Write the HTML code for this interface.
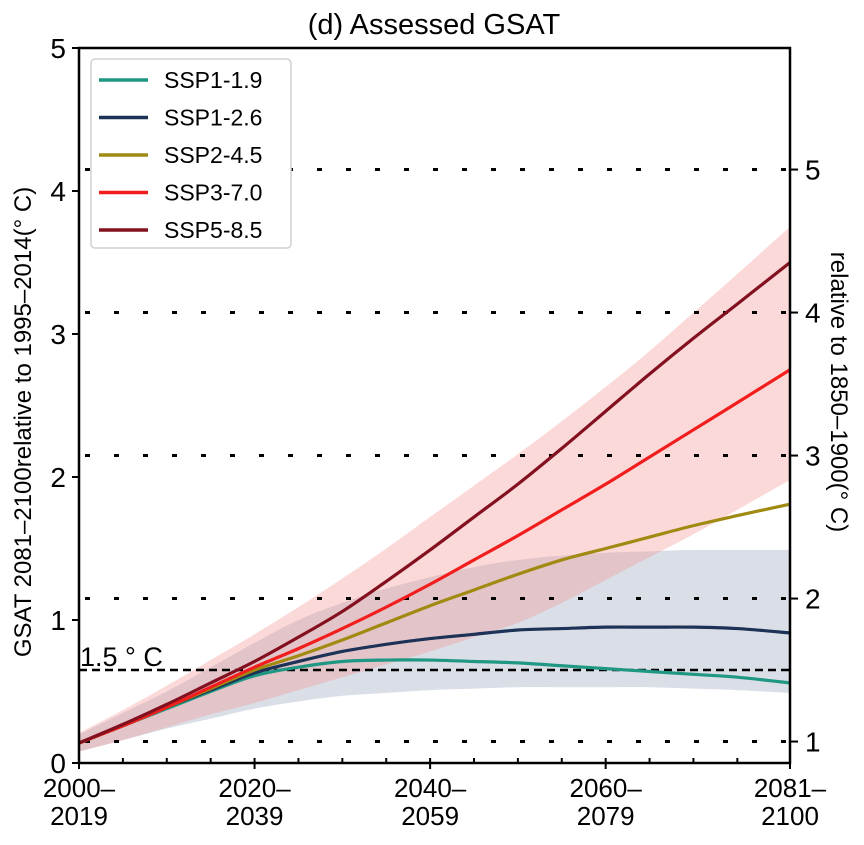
<!DOCTYPE html>
<html><head><meta charset="utf-8"><style>
body{margin:0;background:#fff}
svg text{font-family:"Liberation Sans","DejaVu Sans",sans-serif;fill:#000}
</style></head><body>
<svg width="864" height="840" viewBox="0 0 864 840" xmlns="http://www.w3.org/2000/svg">
<text x="434" y="34" font-size="29" text-anchor="middle">(d)  Assessed GSAT</text>
<g id="bands"></g>
<g id="grid"></g>
<g id="lines"></g>
<g id="axes"></g>
<text x="80" y="666" font-size="27">1.5 ° C</text>
<text transform="translate(31,422) rotate(-90)" font-size="24" text-anchor="middle">GSAT 2081–2100relative to 1995–2014(° C)</text>
<text transform="translate(831,392) rotate(90)" font-size="24" text-anchor="middle">relative to 1850–1900(° C)</text>
<g>
<rect x="91" y="59" width="200" height="189" rx="4" fill="#fff" stroke="#d0d0d0" stroke-width="1.5"/>
<g id="legend-items"></g>
</g>
</svg>
<script>
const years=[2000,2005,2010,2015,2020,2025,2030,2035,2040,2045,2050,2055,2060,2065,2070,2075,2081];
const ssp119=[0.14,0.26,0.38,0.50,0.61,0.67,0.71,0.72,0.72,0.71,0.70,0.68,0.66,0.64,0.62,0.60,0.56];
const ssp126=[0.14,0.26,0.39,0.51,0.63,0.71,0.78,0.83,0.87,0.90,0.93,0.94,0.95,0.95,0.95,0.94,0.91];
const ssp245=[0.14,0.26,0.39,0.52,0.65,0.75,0.86,0.98,1.10,1.21,1.32,1.42,1.50,1.58,1.66,1.73,1.81];
const ssp370=[0.14,0.26,0.39,0.53,0.67,0.80,0.94,1.09,1.25,1.42,1.59,1.77,1.95,2.14,2.33,2.52,2.75];
const ssp585=[0.14,0.27,0.41,0.56,0.71,0.88,1.06,1.27,1.49,1.72,1.95,2.20,2.46,2.72,2.97,3.21,3.50];
const pinkUpper=[0.21,0.37,0.54,0.72,0.90,1.09,1.29,1.50,1.72,1.94,2.16,2.39,2.63,2.88,3.15,3.42,3.75];
const pinkLower=[0.08,0.16,0.25,0.34,0.42,0.51,0.60,0.69,0.78,0.88,0.98,1.12,1.28,1.44,1.60,1.77,1.98];
const greyUpper=[0.20,0.35,0.50,0.67,0.84,1.00,1.12,1.22,1.30,1.37,1.42,1.45,1.47,1.48,1.49,1.49,1.49];
const greyLower=[0.08,0.16,0.24,0.31,0.38,0.43,0.47,0.49,0.51,0.52,0.53,0.53,0.53,0.53,0.52,0.51,0.49];
const leftTicks=[0,1,2,3,4,5];
const rightTicks=[1,2,3,4,5];
const rightOffset=0.85;
const xTickLabels=[["2000–","2019"],["2020–","2039"],["2040–","2059"],["2060–","2079"],["2081–","2100"]];
const xTickYears=[2000,2020,2040,2060,2081];
const threshold=1.5;

const X0=79,X1=790,Y0=763,PPU=143;
const sx=y=>X0+(y-2000)*(X1-X0)/81;
const sy=v=>Y0-v*PPU;
const NS="http://www.w3.org/2000/svg";
function mk(t,a,p){const e=document.createElementNS(NS,t);for(const k in a)e.setAttribute(k,a[k]);p.appendChild(e);return e;}
function pts(vals){return years.map((y,i)=>[sx(y),sy(vals[i])]);}
function curve(p,start){let d=start?`M${p[0][0]},${p[0][1]}`:`L${p[0][0]},${p[0][1]}`;
 for(let i=0;i<p.length-1;i++){const a=p[Math.max(i-1,0)],b=p[i],c=p[i+1],e=p[Math.min(i+2,p.length-1)];
 d+=` C${b[0]+(c[0]-a[0])/6},${b[1]+(c[1]-a[1])/6} ${c[0]-(e[0]-b[0])/6},${c[1]-(e[1]-b[1])/6} ${c[0]},${c[1]}`;}return d;}
const bands=document.getElementById('bands');
function band(u,l,fill,name){const d=curve(pts(u),true)+curve(pts(l).reverse(),false)+'Z';
 const e=mk('path',{d:d,fill:fill},bands);
 
 }
band(greyUpper,greyLower,'rgba(175,183,203,0.46)','ssp126-range-band');
band(pinkUpper,pinkLower,'rgba(245,150,150,0.36)','ssp370-range-band');
const grid=document.getElementById('grid');
rightTicks.forEach(t=>{const y=sy(t-rightOffset);const e=mk('line',{x1:X0+6,x2:X1,y1:y,y2:y,stroke:'#000','stroke-width':3,'stroke-dasharray':'5 24'},grid);
 
 });
const th=mk('line',{x1:X0,x2:X1,y1:sy(threshold-rightOffset),y2:sy(threshold-rightOffset),stroke:'#000','stroke-width':2.5,'stroke-dasharray':'8 5'},grid);


const series=[["SSP1-1.9",ssp119,"#1f9782"],["SSP1-2.6",ssp126,"#1c3256"],["SSP2-4.5",ssp245,"#a08a12"],["SSP3-7.0",ssp370,"#f21d1d"],["SSP5-8.5",ssp585,"#83101f"]];
const lines=document.getElementById('lines'),leg=document.getElementById('legend-items');
series.forEach((s,i)=>{const e=mk('path',{d:curve(pts(s[1]),true),fill:'none',stroke:s[2],'stroke-width':3.2},lines);
 
 
 const y=80+i*37.5;
 const g=mk('g',{},leg);
 
 
 mk('line',{x1:99,x2:148,y1:y,y2:y,stroke:s[2],'stroke-width':3.5},g);
 const t=mk('text',{x:164,y:y+8,'font-size':23},g);t.textContent=s[0];});
const ax=document.getElementById('axes');
mk('rect',{x:X0,y:sy(5),width:X1-X0,height:Y0-sy(5),fill:'none',stroke:'#000','stroke-width':2.5},ax);
leftTicks.forEach(t=>{const y=sy(t);mk('line',{x1:X0-7,x2:X0,y1:y,y2:y,stroke:'#000','stroke-width':2},ax);
 const e=mk('text',{x:X0-13,y:y+10,'font-size':28,'text-anchor':'end'},ax);e.textContent=t;
 
 });
rightTicks.forEach(t=>{const y=sy(t-rightOffset);mk('line',{x1:X1,x2:X1+8,y1:y,y2:y,stroke:'#000','stroke-width':2},ax);
 const e=mk('text',{x:X1+15,y:y+10,'font-size':28},ax);e.textContent=t;
 
 });
for(let y=2005;y<2081;y+=5){if(y%20)mk('line',{x1:sx(y),x2:sx(y),y1:Y0,y2:Y0-5,stroke:'#000','stroke-width':2},ax);}
xTickYears.forEach((yr,i)=>{const x=sx(yr);mk('line',{x1:x,x2:x,y1:Y0-5,y2:Y0+6,stroke:'#000','stroke-width':2},ax);
 const e=mk('text',{x:x,y:797,'font-size':26,'text-anchor':'middle'},ax);
 
 
 const a=mk('tspan',{x:x,dy:0},e);a.textContent=xTickLabels[i][0];
 const b=mk('tspan',{x:x,dy:28},e);b.textContent=xTickLabels[i][1];});
</script>
</body></html>
